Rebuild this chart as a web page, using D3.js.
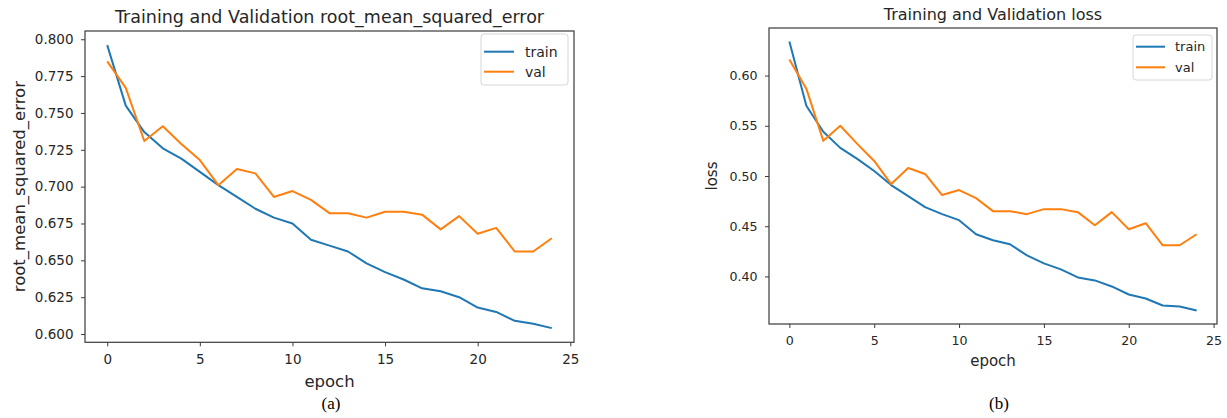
<html>
<head>
<meta charset="utf-8">
<title>Training curves</title>
<style>
  body { margin: 0; background: #fff; }
  text { font-family: "DejaVu Sans", sans-serif; fill: #262626; }
  .caption { font-family: "Liberation Serif", "Times New Roman", serif; fill: #000; }
  .frame { fill: none; stroke: #3a3a3a; stroke-width: 1.2; }
  .tick line { stroke: #3a3a3a; stroke-width: 1; }
</style>
<script src="https://cdn.jsdelivr.net/npm/d3@7"></script>
</head>
<body>
<script>
var width = 1227, height = 418;

// data
var epochs = [0,1,2,3,4,5,6,7,8,9,10,11,12,13,14,15,16,17,18,19,20,21,22,23,24];
var rmseTrain = [0.796,0.755,0.737,0.726,0.719,0.710,0.701,0.693,0.685,0.679,0.675,0.664,0.660,0.656,0.648,0.642,0.637,0.631,0.629,0.625,0.618,0.615,0.609,0.607,0.604];
var rmseVal   = [0.785,0.767,0.731,0.741,0.729,0.718,0.701,0.712,0.709,0.693,0.697,0.691,0.682,0.682,0.679,0.683,0.683,0.681,0.671,0.680,0.668,0.672,0.656,0.656,0.665];
var lossTrain = [0.634,0.570,0.544,0.528,0.517,0.505,0.491,0.480,0.469,0.462,0.456,0.442,0.436,0.432,0.421,0.413,0.407,0.399,0.396,0.390,0.382,0.378,0.371,0.370,0.366];
var lossVal   = [0.616,0.587,0.535,0.550,0.532,0.515,0.492,0.508,0.502,0.481,0.486,0.478,0.465,0.465,0.462,0.467,0.467,0.464,0.451,0.464,0.447,0.453,0.431,0.431,0.442];

var epochTicks = [0,5,10,15,20,25];
var rmseTicks = [0.600,0.625,0.650,0.675,0.700,0.725,0.750,0.775,0.800];
var lossTicks = [0.40,0.45,0.50,0.55,0.60];
var seriesNames = ["train","val"];
var colors = ["#1f77b4","#ff7f0e"];

var svg = d3.select("body").append("svg")
    .attr("width", width)
    .attr("height", height);

function drawPanel(p){
    var x = d3.scaleLinear().domain([-1.2, 25.2]).range([p.left, p.right]);
    var all = p.series[0].concat(p.series[1]);
    var lo = d3.min(all), hi = d3.max(all), pad = (hi-lo)*0.05;
    var y = d3.scaleLinear().domain([lo-pad, hi+pad]).range([p.bottom, p.top]);

    var g = svg.append("g");

    var xAxis = g.append("g")
        .attr("transform", "translate(0," + p.bottom + ")")
        .call(d3.axisBottom(x).tickValues(epochTicks).tickSize(4).tickPadding(p.xPad).tickFormat(d3.format("d")));
    xAxis.select(".domain").remove();
    xAxis.selectAll("text").style("font-size", p.tickFont + "px").attr("fill", "#262626");

    var yAxis = g.append("g")
        .attr("transform", "translate(" + p.left + ",0)")
        .call(d3.axisLeft(y).tickValues(p.yTicks).tickSize(4).tickPadding(7.5).tickFormat(d3.format(p.fmt)));
    yAxis.select(".domain").remove();
    yAxis.selectAll("text").style("font-size", p.tickFont + "px").attr("fill", "#262626");

    var line = d3.line().x(function(d,i){ return x(epochs[i]); }).y(function(d){ return y(d); });
    p.series.forEach(function(s, k){
        g.append("path")
         .datum(s)
         .attr("d", line)
         .attr("fill", "none")
         .attr("stroke", colors[k])
         .attr("stroke-width", 2)
         .attr("stroke-linejoin", "round");
    });

    g.append("rect").attr("class", "frame")
        .attr("x", p.left).attr("y", p.top)
        .attr("width", p.right - p.left).attr("height", p.bottom - p.top);

    // title and labels
    var cx = (p.left + p.right)/2;
    g.append("text").attr("x", cx).attr("y", p.titleY)
        .attr("text-anchor", "middle").style("font-size", p.titleFont + "px").text(p.title);
    g.append("text").attr("x", cx).attr("y", p.xLabelY)
        .attr("text-anchor", "middle").style("font-size", p.labelFont + "px").text("epoch");
    g.append("text")
        .attr("transform", "translate(" + p.yLabelX + "," + ((p.top+p.bottom)/2) + ") rotate(-90)")
        .attr("text-anchor", "middle").style("font-size", p.labelFont + "px").text(p.yLabel);

    // legend
    var lg = g.append("g");
    lg.append("rect")
        .attr("x", p.legend.x).attr("y", p.legend.y)
        .attr("width", p.legend.w).attr("height", p.legend.h)
        .attr("rx", 3).attr("fill", "#fff").attr("fill-opacity", 0.8)
        .attr("stroke", "#d6d6d6").attr("stroke-width", 1);
    seriesNames.forEach(function(name, k){
        var yy = p.legend.rows[k];
        lg.append("line")
          .attr("x1", p.legend.x + p.legend.l0).attr("x2", p.legend.x + p.legend.l1)
          .attr("y1", yy).attr("y2", yy)
          .attr("stroke", colors[k]).attr("stroke-width", 2);
        lg.append("text")
          .attr("x", p.legend.x + p.legend.tx).attr("y", yy).attr("dy", "0.35em")
          .style("font-size", p.legendFont + "px").text(name);
    });

    svg.append("text").attr("class", "caption")
        .attr("x", p.capX).attr("y", 409)
        .attr("text-anchor", "middle").style("font-size", "17px").text(p.caption);
}

drawPanel({
    left: 85, right: 574, top: 31, bottom: 342.3,
    series: [rmseTrain, rmseVal], yTicks: rmseTicks, fmt: ".3f",
    tickFont: 13.5, xPad: 8.5, titleFont: 17.5, labelFont: 16.5, legendFont: 14,
    title: "Training and Validation root_mean_squared_error", titleY: 23,
    xLabelY: 387, yLabel: "root_mean_squared_error", yLabelX: 25,
    legend: {x: 481, y: 34, w: 87, h: 51, l0: 3, l1: 33, tx: 44, rows: [51.7, 71.7]},
    caption: "(a)", capX: 331
});

drawPanel({
    left: 769, right: 1217, top: 28, bottom: 324,
    series: [lossTrain, lossVal], yTicks: lossTicks, fmt: ".2f",
    tickFont: 12.6, xPad: 8, titleFont: 16, labelFont: 15, legendFont: 13,
    title: "Training and Validation loss", titleY: 20,
    xLabelY: 366, yLabel: "loss", yLabelX: 717,
    legend: {x: 1133, y: 35, w: 79, h: 45, l0: 3, l1: 32, tx: 42, rows: [46.7, 67.3]},
    caption: "(b)", capX: 999
});
</script>
</body>
</html>
